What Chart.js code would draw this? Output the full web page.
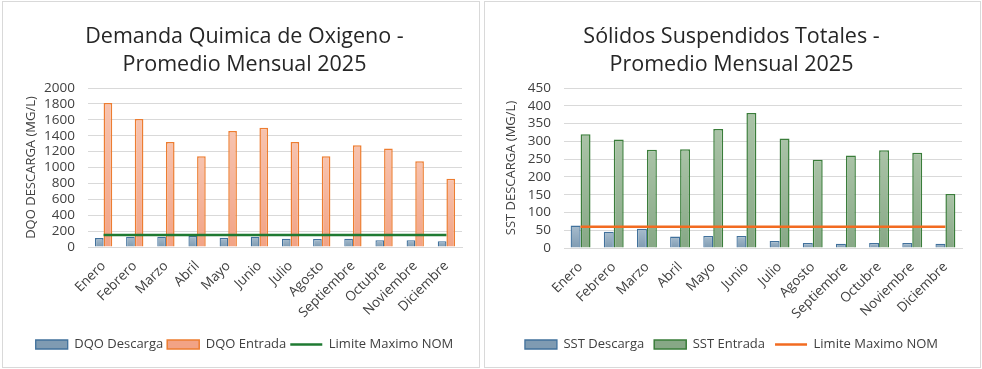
<!DOCTYPE html>
<html lang="es">
<head>
<meta charset="UTF-8">
<title>DQO y SST - Promedio Mensual 2025</title>
<script src="https://cdn.jsdelivr.net/npm/chart.js"></script>
<style>
  body { margin: 0; background: #fff; }
  .panel { position: absolute; box-sizing: border-box; border: 1px solid #d9d9d9; background: #fff; }
  #pDqo { left: 2px; top: 1px; width: 478px; height: 367px; }
  #pSst { left: 484px; top: 1px; width: 497px; height: 367px; }
  canvas { display: block; }
</style>
</head>
<body>
<div class="panel" id="pDqo"><canvas id="dqoChart" width="476" height="365"></canvas></div>
<div class="panel" id="pSst"><canvas id="sstChart" width="495" height="365"></canvas></div>

<script>
  // datos (mg/L)
  const meses = ['Enero', 'Febrero', 'Marzo', 'Abril', 'Mayo', 'Junio', 'Julio', 'Agosto', 'Septiembre', 'Octubre', 'Noviembre', 'Diciembre'];

  const dqoDescarga = [112, 130, 130, 138, 115, 130, 105, 100, 105, 85, 85, 72];
  const dqoEntrada  = [1810, 1610, 1320, 1140, 1460, 1500, 1320, 1140, 1280, 1240, 1080, 860];
  const dqoLimite   = [150, 150, 150, 150, 150, 150, 150, 150, 150, 150, 150, 150];

  const sstDescarga = [63, 46, 54, 32, 34, 34, 20, 14, 12, 14, 14, 12];
  const sstEntrada  = [320, 305, 276, 278, 335, 380, 308, 248, 260, 275, 268, 152];
  const sstLimite   = [60, 60, 60, 60, 60, 60, 60, 60, 60, 60, 60, 60];

  Chart.defaults.font.family = "'Open Sans', sans-serif";
  Chart.defaults.color = '#404040';

  // degradado vertical por barra (claro arriba, oscuro abajo)
  function gradiente(arriba, abajo) {
    return (ctx) => {
      const chart = ctx.chart;
      if (!chart.chartArea || ctx.type !== 'data') return abajo;
      const y = chart.scales.y;
      const y0 = y.getPixelForValue(ctx.raw);
      const y1 = y.getPixelForValue(0);
      if (!isFinite(y0) || !isFinite(y1) || y0 === y1) return abajo;
      const g = chart.ctx.createLinearGradient(0, y0, 0, y1);
      g.addColorStop(0, arriba);
      g.addColorStop(1, abajo);
      return g;
    };
  }

  function crearGrafico(id, o) {
    const colorLeyenda = [o.desc.fill, o.ent.fill, o.lim];
    return new Chart(document.getElementById(id), {
      type: 'bar',
      data: {
        labels: meses,
        datasets: [
          {
            label: o.nombres[0],
            data: o.datos[0],
            backgroundColor: gradiente(o.desc.top, o.desc.fill),
            borderColor: o.desc.border,
            borderWidth: 1.3,
            borderSkipped: 'bottom',
            categoryPercentage: o.catPct,
            barPercentage: 1,
            pointStyle: 'rect',
            order: 1
          },
          {
            label: o.nombres[1],
            data: o.datos[1],
            backgroundColor: gradiente(o.ent.top, o.ent.fill),
            borderColor: o.ent.border,
            borderWidth: 1.5,
            borderSkipped: 'bottom',
            categoryPercentage: o.catPct,
            barPercentage: 1,
            pointStyle: 'rect',
            order: 1
          },
          {
            type: 'line',
            label: o.nombres[2],
            data: o.datos[2],
            borderColor: o.lim,
            backgroundColor: o.lim,
            borderWidth: 2.5,
            pointRadius: 0,
            pointStyle: 'line',
            order: 0
          }
        ]
      },
      options: {
        responsive: false,
        animation: false,
        // el padding izquierdo desplaza titulo y leyenda hacia el centro del area de trazado
        layout: { padding: { left: o.padLeft, right: o.padRight, top: 0, bottom: 6 } },
        plugins: {
          tooltip: { enabled: false },
          title: {
            display: true,
            text: o.titulo,
            color: '#262626',
            font: { size: 21.5, weight: 'normal', lineHeight: 28 / 21.5 },
            padding: { top: 21, bottom: 9 }
          },
          legend: {
            position: 'bottom',
            labels: {
              usePointStyle: true,
              pointStyleWidth: 32,
              boxHeight: 9,
              padding: o.legPad,
              color: '#404040',
              font: { size: 13 },
              sort: (a, b) => a.datasetIndex - b.datasetIndex,
              generateLabels: (chart) => {
                const items = Chart.defaults.plugins.legend.labels.generateLabels(chart);
                items.forEach(it => {
                  if (it.datasetIndex < 2) it.fillStyle = colorLeyenda[it.datasetIndex];
                });
                return items;
              }
            }
          }
        },
        scales: {
          x: {
            grid: { display: false },
            border: { display: true, color: '#d9d9d9' },
            ticks: { minRotation: 45, maxRotation: 45, autoSkip: false, padding: 3, font: { size: 13.5 }, color: '#404040' },
            afterFit: (s) => { s.height = o.xHeight; }
          },
          y: {
            min: 0,
            max: o.yMax,
            ticks: {
              stepSize: o.yStep,
              autoSkip: false,
              padding: 13,
              font: { size: 13.5 },
              color: '#404040',
              callback: (v) => String(v)
            },
            grid: { color: '#d9d9d9', lineWidth: 1, drawTicks: false },
            border: { display: false },
            title: {
              display: true,
              text: o.yTitulo,
              color: '#404040',
              font: { size: 13 },
              padding: { top: o.yTitPad, bottom: 0 }
            },
            afterFit: (s) => { s.width = o.yWidth; }
          }
        }
      }
    });
  }

  crearGrafico('dqoChart', {
    titulo: ['Demanda Quimica de Oxigeno -', 'Promedio Mensual 2025'],
    yTitulo: 'DQO DESCARGA (MG/L)',
    nombres: ['DQO Descarga', 'DQO Entrada', 'Limite Maximo NOM'],
    datos: [dqoDescarga, dqoEntrada, dqoLimite],
    yMax: 2000, yStep: 200,
    desc: { top: '#a7bccd', fill: '#7f9bb2', border: '#41719c' },
    ent: { top: '#f7c3af', fill: '#f2a385', border: '#ed7d31' },
    lim: '#1f7a32',
    catPct: 0.555,
    padLeft: 24, yWidth: 61, yTitPad: -4, padRight: 17,
    xHeight: 87, legPad: 4
  });

  crearGrafico('sstChart', {
    titulo: ['Sólidos Suspendidos Totales -', 'Promedio Mensual 2025'],
    yTitulo: 'SST DESCARGA (MG/L)',
    nombres: ['SST Descarga', 'SST Entrada', 'Limite Maximo NOM'],
    datos: [sstDescarga, sstEntrada, sstLimite],
    yMax: 450, yStep: 50,
    desc: { top: '#a7bccd', fill: '#7f9bb2', border: '#41719c' },
    ent: { top: '#aac3a7', fill: '#87a886', border: '#3a7d3a' },
    lim: '#f26b21',
    catPct: 0.6,
    padLeft: 16, yWidth: 63, yTitPad: 2, padRight: 18,
    xHeight: 80, legPad: 10
  });
</script>
</body>
</html>
